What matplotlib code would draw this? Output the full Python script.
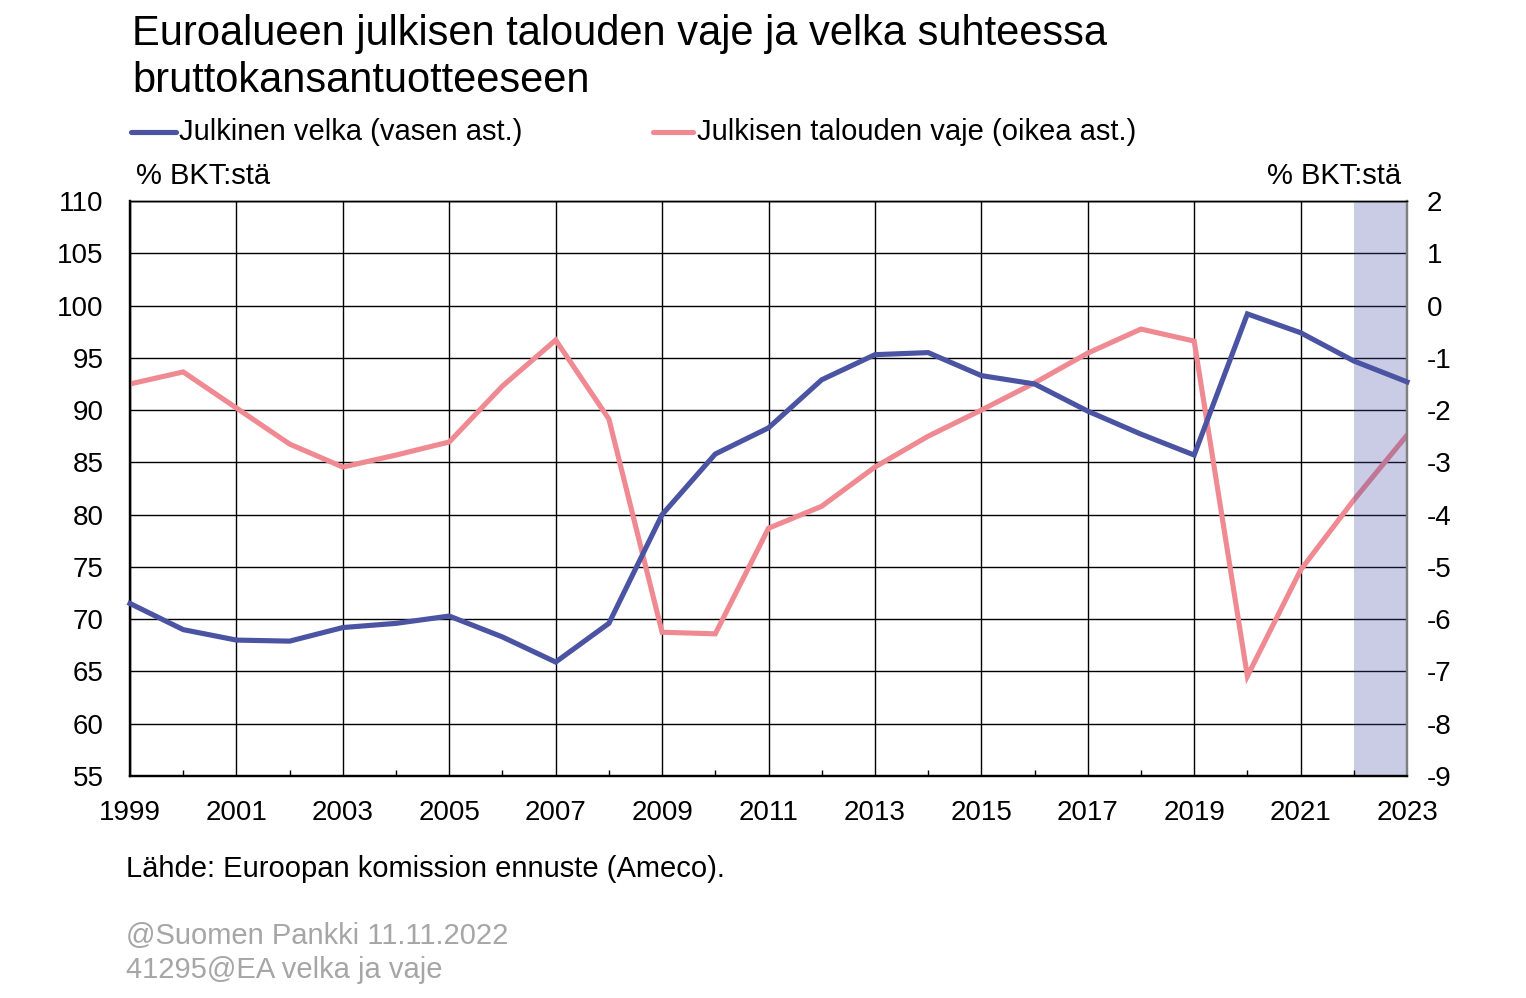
import matplotlib
matplotlib.use("Agg")
import matplotlib.pyplot as plt
from matplotlib.lines import Line2D
from matplotlib.ticker import FixedLocator

plt.rcParams['font.family'] = ['Liberation Sans', 'DejaVu Sans']
plt.rcParams['axes.unicode_minus'] = False

years = list(range(1999, 2024))
debt = [71.5, 69.0, 68.0, 67.9, 69.2, 69.6, 70.3, 68.3, 65.9, 69.6, 80.0, 85.8,
        88.3, 92.9, 95.3, 95.5, 93.3, 92.5, 89.9, 87.7, 85.7, 99.2, 97.4, 94.7, 92.7]
deficit = [-1.50, -1.27, -1.96, -2.65, -3.09, -2.86, -2.61, -1.54, -0.66, -2.17, -6.25, -6.28,
           -4.26, -3.84, -3.09, -2.50, -2.00, -1.48, -0.91, -0.45, -0.68, -7.09, -5.06, -3.72, -2.48]
forecast_start, forecast_end = 2022, 2023

title_lines = ["Euroalueen julkisen talouden vaje ja velka suhteessa", "bruttokansantuotteeseen"]
label_debt = "Julkinen velka (vasen ast.)"
label_def = "Julkisen talouden vaje (oikea ast.)"
unit = "% BKT:stä"
source = "Lähde: Euroopan komission ennuste (Ameco)."
footer = ["@Suomen Pankki 11.11.2022", "41295@EA velka ja vaje"]

c_debt = "#4B53A3"
c_def = "#F08A92"
FS = 20
FT = 21

W, H = 1526, 998
fig = plt.figure(figsize=(W / 100, H / 100), dpi=100)
L, R, T, B = 130, 1407, 201, 776
ax1 = fig.add_axes([L / W, 1 - B / H, (R - L) / W, (B - T) / H])
ax2 = ax1.twinx()
ax1.set_zorder(2)
ax2.set_zorder(1)
ax1.patch.set_visible(False)
ax2.patch.set_visible(True)
ax2.patch.set_facecolor('white')
ax2.xaxis.set_visible(True)

ax1.set_xlim(1999, 2023)
ax1.set_ylim(55, 110)
ax2.set_ylim(-9, 2)
ax1.set_yticks(range(55, 111, 5))
ax2.set_yticks(range(-9, 3, 1))
ax1.xaxis.set_major_locator(FixedLocator(list(range(1999, 2024, 2))))
ax1.xaxis.set_minor_locator(FixedLocator(list(range(2000, 2023, 2))))

ax2.set_axisbelow(True)
ax2.grid(True, axis='both', which='major', color='black', lw=1.0)
ax2.tick_params(axis='x', which='both', bottom=False, labelbottom=False, top=False)
ax2.tick_params(axis='y', length=0, pad=14, labelsize=FS)

ax2.plot(years, deficit, color=c_def, lw=3.7, zorder=3, solid_joinstyle='miter')
ax2.axvspan(forecast_start, forecast_end, color='#3C46A0', alpha=0.27, lw=0, zorder=4)

ax1.plot(years, debt, color=c_debt, lw=3.7, zorder=3, solid_joinstyle='miter', clip_on=False)

ax1.tick_params(axis='y', length=0, pad=19, labelsize=FS)
ax1.tick_params(axis='x', which='major', length=0, pad=17, labelsize=FS)
ax1.tick_params(axis='x', which='minor', direction='in', length=4, width=1, color='black')

for ax in (ax1, ax2):
    ax.spines['left'].set_color('black')
    ax.spines['left'].set_linewidth(1.6)
    ax.spines['bottom'].set_color('black')
    ax.spines['bottom'].set_linewidth(1.6)
    ax.spines['right'].set_color('#808080')
    ax.spines['right'].set_linewidth(1.6)
    ax.spines['top'].set_color('black')
    ax.spines['top'].set_linewidth(1.0)

# title
fig.text(132 / W, 1 - 45 / H, title_lines[0], fontsize=30, va='baseline', ha='left')
fig.text(132 / W, 1 - 92 / H, title_lines[1], fontsize=30, va='baseline', ha='left')

# legend (manual)
ly = 1 - 132 / H
fig.add_artist(Line2D([131 / W, 176 / W], [ly, ly], color=c_debt, lw=3.7, solid_capstyle='round'))
fig.text(179 / W, ly, label_debt, fontsize=FT, va='center', ha='left')
fig.add_artist(Line2D([653 / W, 693 / W], [ly, ly], color=c_def, lw=3.7, solid_capstyle='round'))
fig.text(697 / W, ly, label_def, fontsize=FT, va='center', ha='left')

# units
fig.text(136 / W, 1 - 176 / H, unit, fontsize=FT, va='center', ha='left')
fig.text(1401 / W, 1 - 176 / H, unit, fontsize=FT, va='center', ha='right')

# source & footer
fig.text(126 / W, 1 - 869 / H, source, fontsize=FT, va='center', ha='left')
fig.text(126 / W, 1 - 936 / H, footer[0], fontsize=FT, va='center', ha='left', color='#A6A6A6')
fig.text(126 / W, 1 - 970 / H, footer[1], fontsize=FT, va='center', ha='left', color='#A6A6A6')

fig.savefig("out.png", dpi=100, facecolor='white')
